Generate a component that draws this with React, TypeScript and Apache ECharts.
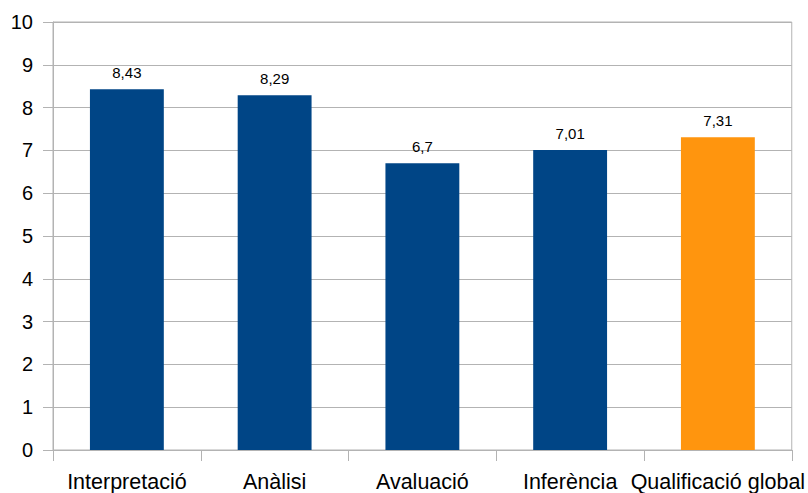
import React, { useEffect, useRef } from "react";
import * as echarts from "echarts";

const categories = ["Interpretació", "Anàlisi", "Avaluació", "Inferència", "Qualificació global"];
const values = [8.43, 8.29, 6.7, 7.01, 7.31];
const barColors = ["#004586", "#004586", "#004586", "#004586", "#ff950e"];
const yTicks = { min: 0, max: 10, interval: 1 };

export default function App() {
  const ref = useRef<HTMLDivElement>(null);
  useEffect(() => {
    if (!ref.current) return;
    const chart = echarts.init(ref.current, null, { renderer: "svg" });
    const font = "'Liberation Sans', Arial, sans-serif";
    chart.setOption({
      animation: false,
      backgroundColor: "#ffffff",
      grid: {
        left: 53,
        right: 15,
        top: 22,
        bottom: 43,
        show: true,
        borderColor: "#b3b3b3",
        borderWidth: 1,
        containLabel: false,
      },
      xAxis: {
        type: "category",
        data: categories,
        boundaryGap: true,
        axisLine: { show: true, lineStyle: { color: "#b3b3b3", width: 1 } },
        axisTick: { show: true, length: 11, alignWithLabel: false, lineStyle: { color: "#b3b3b3" } },
        axisLabel: {
          color: "#000000",
          fontFamily: font,
          fontSize: 21.5,
          margin: 21,
          interval: 0,
        },
      },
      yAxis: {
        type: "value",
        min: yTicks.min,
        max: yTicks.max,
        interval: yTicks.interval,
        axisLine: { show: true, lineStyle: { color: "#b3b3b3", width: 1 } },
        axisTick: { show: true, length: 10, lineStyle: { color: "#b3b3b3" } },
        splitLine: { show: true, lineStyle: { color: "#b3b3b3", width: 1 } },
        axisLabel: {
          color: "#000000",
          fontFamily: font,
          fontSize: 20,
          margin: 20,
        },
      },
      series: [
        {
          type: "bar",
          barWidth: "50%",
          data: values.map((v, i) => ({ value: v, itemStyle: { color: barColors[i] } })),
          label: {
            show: true,
            position: "top",
            distance: 9,
            color: "#000000",
            fontFamily: font,
            fontSize: 15,
            formatter: (p: any) => String(p.value).replace(".", ","),
          },
        },
      ],
    });
    return () => chart.dispose();
  }, []);
  return (
    <div
      ref={ref}
      style={{ position: "fixed", left: 0, top: 0, width: 808, height: 493, background: "#fff" }}
    />
  );
}
